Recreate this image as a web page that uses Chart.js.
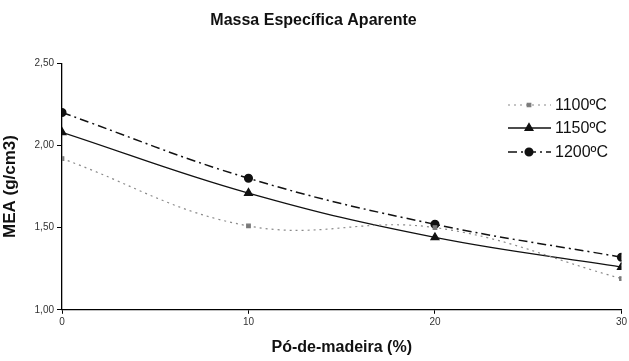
<!DOCTYPE html>
<html><head><meta charset="utf-8">
<script src="https://cdn.jsdelivr.net/npm/chart.js@4/dist/chart.umd.min.js"></script>
<style>html,body{margin:0;padding:0;background:#fff}#wrap{width:629px;height:361px}</style>
</head><body><div id="wrap"><canvas id="c" width="629" height="361"></canvas></div>
<script>
const xValues = [0, 10, 20, 30];
const series1100 = [1.92, 1.51, 1.50, 1.19];
const series1150 = [2.08, 1.71, 1.44, 1.26];
const series1200 = [2.20, 1.80, 1.52, 1.32];
const seriesNames = ['1100ºC', '1150ºC', '1200ºC'];
const yTickValues = [1.0, 1.5, 2.0, 2.5];
const yTickLabels = ['1,00', '1,50', '2,00', '2,50'];
const xTickLabels = ['0', '10', '20', '30'];

const toPts = arr => arr.map((v, i) => ({x: xValues[i], y: v}));

const legendPlugin = {
  id: 'insideLegend',
  afterDatasetsDraw(chart) {
    const ctx = chart.ctx;
    const rows = [105, 128, 152];
    chart.data.datasets.forEach((ds, i) => {
      const y = rows[i];
      ctx.save();
      ctx.strokeStyle = ds.borderColor;
      ctx.lineWidth = ds.borderWidth;
      ctx.setLineDash(ds.borderDash || []);
      ctx.beginPath(); ctx.moveTo(508, y); ctx.lineTo(551, y); ctx.stroke();
      ctx.setLineDash([]);
      ctx.fillStyle = ds.pointBackgroundColor;
      ctx.strokeStyle = ds.pointBorderColor;
      Chart.helpers.drawPoint(ctx, {pointStyle: ds.pointStyle, radius: ds.pointRadius, borderWidth: 1}, 529, y);
      ctx.fillStyle = '#111';
      ctx.font = '16px "Liberation Sans", Arial, sans-serif';
      ctx.textBaseline = 'middle';
      ctx.fillText(ds.label, 555, y + 1);
      ctx.restore();
    });
  }
};

new Chart(document.getElementById('c'), {
  type: 'line',
  data: {
    datasets: [
      {label: seriesNames[0], data: toPts(series1100), borderColor: '#8a8a8a', backgroundColor: '#7a7a7a', pointBackgroundColor: '#7a7a7a', pointBorderColor: '#7a7a7a', borderWidth: 1.2, borderDash: [2, 4], pointStyle: 'rect', pointRadius: 2.5, tension: 0.4},
      {label: seriesNames[1], data: toPts(series1150), borderColor: '#111', backgroundColor: '#111', pointBackgroundColor: '#111', pointBorderColor: '#111', borderWidth: 1.3, pointStyle: 'triangle', pointRadius: 4.5, tension: 0.4},
      {label: seriesNames[2], data: toPts(series1200), borderColor: '#111', backgroundColor: '#111', pointBackgroundColor: '#111', pointBorderColor: '#111', borderWidth: 1.5, borderDash: [9, 4, 2, 4], pointStyle: 'circle', pointRadius: 3.8, tension: 0.4}
    ]
  },
  options: {
    responsive: false,
    animation: false,
    layout: {padding: {top: 0, right: 2, left: 0, bottom: 0}},
    plugins: {
      legend: {display: false},
      tooltip: {enabled: false},
      title: {display: true, text: 'Massa Específica Aparente', color: '#111',
        font: {family: '"Liberation Sans", Arial, sans-serif', size: 16, weight: 'bold'},
        padding: {top: 11, bottom: 33}}
    },
    scales: {
      x: {
        type: 'linear', min: 0, max: 30,
        afterBuildTicks: s => { s.ticks = xValues.map(v => ({value: v})); },
        ticks: {callback: (v) => xTickLabels[xValues.indexOf(v)], color: '#333', font: {family: '"Liberation Sans", Arial, sans-serif', size: 10}, padding: 2, maxRotation: 0},
        grid: {display: true, drawOnChartArea: false, drawTicks: true, tickLength: 4, color: '#000'},
        border: {display: true, color: '#000', width: 1.3},
        title: {display: true, text: 'Pó-de-madeira (%)', color: '#111', font: {family: '"Liberation Sans", Arial, sans-serif', size: 16, weight: 'bold'}, padding: {top: 8, bottom: 4}}
      },
      y: {
        type: 'linear', min: 1.0, max: 2.5,
        afterBuildTicks: s => { s.ticks = yTickValues.map(v => ({value: v})); },
        afterFit: s => { s.width = 62; },
        ticks: {callback: (v) => yTickLabels[yTickValues.indexOf(v)], color: '#333', font: {family: '"Liberation Sans", Arial, sans-serif', size: 10}, padding: 3},
        grid: {display: true, drawOnChartArea: false, drawTicks: true, tickLength: 5, color: '#000'},
        border: {display: true, color: '#000', width: 1.3},
        title: {display: true, text: 'MEA (g/cm3)', color: '#111', font: {family: '"Liberation Sans", Arial, sans-serif', size: 17, weight: 'bold'}, padding: {top: 0, bottom: 2}}
      }
    }
  },
  plugins: [legendPlugin]
});
</script></body></html>
